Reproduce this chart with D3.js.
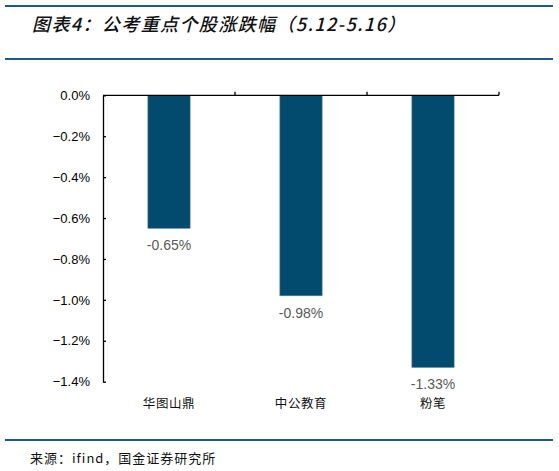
<!DOCTYPE html>
<html><head><meta charset="utf-8">
<script src="https://cdn.jsdelivr.net/npm/d3@7"></script>
<style>body{margin:0;background:#fff}svg{display:block}</style>
</head><body>
<script>
const categories = ["华图山鼎", "中公教育", "粉笔"];
const values = [-0.65, -0.98, -1.33];
const labels = ["-0.65%", "-0.98%", "-1.33%"];
const yTicks = [0, -0.2, -0.4, -0.6, -0.8, -1.0, -1.2, -1.4];
const title = "图表4：公考重点个股涨跌幅（5.12-5.16）";
const source = "来源：ifind，国金证券研究所";

const W = 559, H = 471;
const svg = d3.select("body").append("svg").attr("width", W).attr("height", H);

// header / footer rules
const rule = "#1d5a85";
[6, 59, 440].forEach(y => svg.append("line").attr("x1", 5).attr("x2", 553).attr("y1", y).attr("y2", y)
  .attr("stroke", rule).attr("stroke-width", 2));

svg.append("text").attr("x", 32).attr("y", 31).text(title)
  .attr("font-family", "'Noto Sans CJK SC'").attr("font-size", 18).attr("font-style", "italic")
  .attr("letter-spacing", 1.4).attr("font-weight", 500).attr("fill", "#111");

svg.append("text").attr("x", 30).attr("y", 463).text(source)
  .attr("font-family", "'Noto Sans CJK SC'").attr("font-size", 13).attr("letter-spacing", 1)
  .attr("fill", "#111");

const x = d3.scaleBand().domain(categories).range([103, 499]).paddingInner(0).paddingOuter(0);
const y = d3.scaleLinear().domain([0, -1.4]).range([95.3, 381.7]);
const barW = x.bandwidth() * 0.32;

const g = svg.append("g");
g.selectAll("rect.bar").data(values).join("rect").attr("class", "bar")
  .attr("x", (d, i) => x(categories[i]) + x.bandwidth() / 2 - barW / 2)
  .attr("y", y(0)).attr("width", barW).attr("height", d => y(d) - y(0))
  .attr("fill", "#024a6e").attr("stroke", "#4f7f9c").attr("stroke-width", 0.6);

g.selectAll("text.val").data(values).join("text").attr("class", "val")
  .attr("x", (d, i) => x(categories[i]) + x.bandwidth() / 2)
  .attr("y", d => y(d) + 22).attr("text-anchor", "middle")
  .attr("font-family", "'Liberation Sans', Arial").attr("font-size", 14).attr("fill", "#595959")
  .text((d, i) => labels[i]);

// y axis
const yAxis = d3.axisLeft(y).tickValues(yTicks).tickSizeInner(-3).tickSizeOuter(0).tickPadding(13);
const ya = svg.append("g").attr("transform", "translate(103,0)").call(yAxis);
ya.selectAll("text").attr("font-family", "'Liberation Sans', Arial").attr("font-size", 13).attr("fill", "#000")
  .text(d => (d === 0 ? "0.0" : d3.format(".1f")(d)) + "%");
ya.select(".domain").attr("stroke", "#000").attr("stroke-width", 1.3);
ya.selectAll(".tick line").attr("stroke", "#000").attr("stroke-width", 1.3);

// x axis at zero line, ticks upward at band edges
const xa = svg.append("g");
xa.append("line").attr("x1", 103).attr("x2", 499).attr("y1", y(0)).attr("y2", y(0)).attr("stroke", "#000").attr("stroke-width", 1.3);
const edges = categories.map(c => x(c) + x.bandwidth());
xa.selectAll("line.t").data(edges).join("line").attr("class", "t")
  .attr("x1", d => d).attr("x2", d => d).attr("y1", y(0)).attr("y2", y(0) - 3.5).attr("stroke", "#000").attr("stroke-width", 1.3);

svg.append("g").selectAll("text").data(categories).join("text")
  .attr("x", d => x(d) + x.bandwidth() / 2).attr("y", 407.5).attr("text-anchor", "middle")
  .attr("font-family", "'Noto Sans CJK SC'").attr("font-size", 12.5).attr("letter-spacing", 0.6)
  .attr("fill", "#111").text(d => d);
</script>
</body></html>
